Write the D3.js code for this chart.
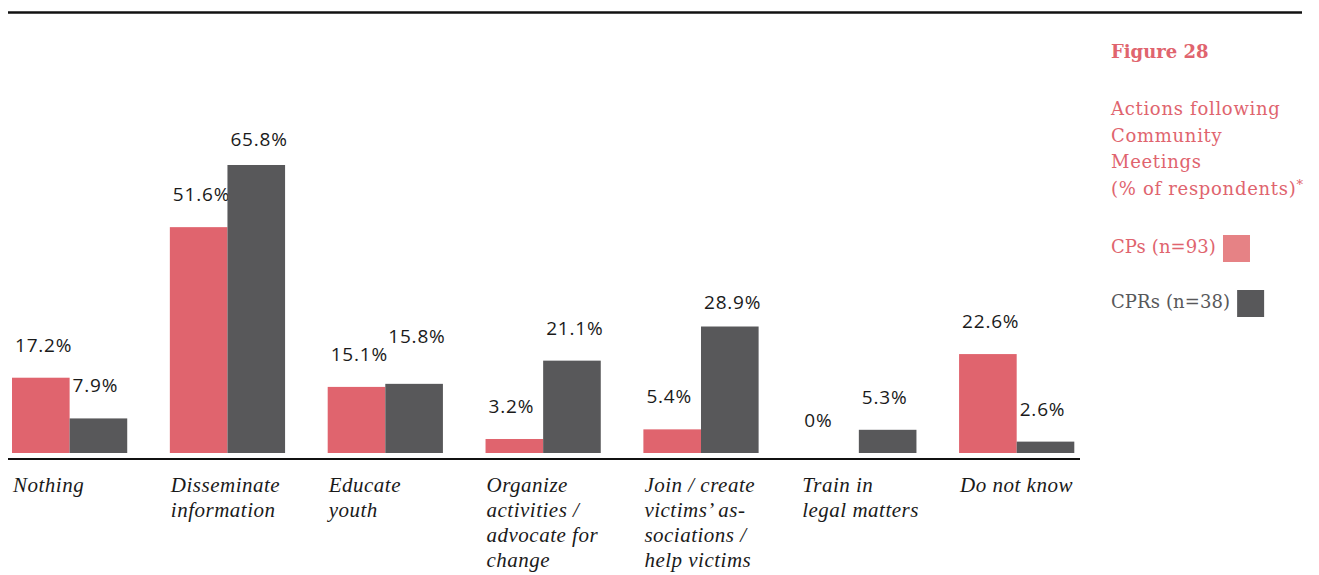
<!DOCTYPE html>
<html>
<head>
<meta charset="utf-8">
<script src="https://cdn.jsdelivr.net/npm/d3@7"></script>
<style>
  body { margin: 0; background: #fff; }
  svg { display: block; }
</style>
</head>
<body>
<svg id="chart" width="1319" height="575"></svg>
<script>
// Chart data
const categories = [
  ["Nothing"],
  ["Disseminate", "information"],
  ["Educate", "youth"],
  ["Organize", "activities /", "advocate for", "change"],
  ["Join / create", "victims\u2019 as-", "sociations /", "help victims"],
  ["Train in", "legal matters"],
  ["Do not know"]
];
const seriesNames = ["CPs (n=93)", "CPRs (n=38)"];
const cpValues = [17.2, 51.6, 15.1, 3.2, 5.4, 0, 22.6];
const cprValues = [7.9, 65.8, 15.8, 21.1, 28.9, 5.3, 2.6];
const valueLabels = [
  ["17.2%", "51.6%", "15.1%", "3.2%", "5.4%", "0%", "22.6%"],
  ["7.9%", "65.8%", "15.8%", "21.1%", "28.9%", "5.3%", "2.6%"]
];
const titleLines = ["Actions following", "Community", "Meetings", "(% of respondents)"];

const barColors = ["#e0646e", "#58585a"];
const swatchColors = ["#e68285", "#58585a"];

const svg = d3.select("#chart");
const keys = categories.map((c, i) => "c" + i);

const x = d3.scaleBand()
  .domain(keys)
  .range([12, 1074.3])
  .paddingInner(0.27);

const x1 = d3.scaleBand()
  .domain([0, 1])
  .range([0, x.bandwidth()]);

const y = d3.scaleLinear()
  .domain([0, 70])
  .range([453, 453 - 70 * 4.377]);

// label gap above bar, a few were moved by hand in the original
const labelGap = { "1-1": 19, "1-2": 41, "1-4": 18 };

// top rule
svg.append("line")
  .attr("x1", 8).attr("x2", 1302)
  .attr("y1", 12.5).attr("y2", 12.5)
  .attr("stroke", "#111").attr("stroke-width", 2.4);

const series = [cpValues, cprValues];

series.forEach((vals, s) => {
  svg.selectAll(".bar-" + s)
    .data(vals)
    .enter().append("rect")
    .attr("class", "bar-" + s)
    .attr("x", (d, i) => x(keys[i]) + x1(s))
    .attr("y", d => y(d))
    .attr("width", x1.bandwidth())
    .attr("height", d => y(0) - y(d))
    .attr("fill", barColors[s]);

  svg.selectAll(".val-" + s)
    .data(vals)
    .enter().append("text")
    .attr("class", "val-" + s)
    .attr("x", (d, i) => x(keys[i]) + x1(s) + 3)
    .attr("y", (d, i) => y(d) - (labelGap[s + "-" + i] || 26))
    .attr("font-family", "'Open Sans', sans-serif")
    .attr("font-size", 19)
    .attr("letter-spacing", 0.8)
    .attr("fill", "#1a1a1a")
    .text((d, i) => valueLabels[s][i]);
});

// axis line
svg.append("line")
  .attr("x1", 8).attr("x2", 1080)
  .attr("y1", 459).attr("y2", 459)
  .attr("stroke", "#111").attr("stroke-width", 1.8);

// category labels
const catText = svg.selectAll(".cat")
  .data(categories)
  .enter().append("text")
  .attr("class", "cat")
  .attr("x", (d, i) => x(keys[i]) + 1)
  .attr("y", 492)
  .attr("font-family", "'Liberation Serif', serif")
  .attr("font-style", "italic")
  .attr("font-size", 21)
  .attr("letter-spacing", 0.5)
  .attr("fill", "#1a1a1a");

catText.each(function (lines, i) {
  d3.select(this).selectAll("tspan")
    .data(lines)
    .enter().append("tspan")
    .attr("x", x(keys[i]) + 1)
    .attr("dy", (d, j) => j === 0 ? 0 : 25)
    .text(d => d);
});

// title block
const serifFont = "'DejaVu Serif', serif";
svg.append("text")
  .attr("x", 1111).attr("y", 58)
  .attr("font-family", serifFont)
  .attr("font-weight", "bold")
  .attr("font-size", 18)
  .attr("fill", "#e0646e")
  .text("Figure 28");

const title = svg.append("text")
  .attr("x", 1111).attr("y", 115)
  .attr("font-family", serifFont)
  .attr("font-size", 18)
  .attr("letter-spacing", 0.7)
  .attr("fill", "#e0646e");

title.selectAll("tspan")
  .data(titleLines)
  .enter().append("tspan")
  .attr("x", 1111)
  .attr("dy", (d, j) => j === 0 ? 0 : 26.7)
  .text(d => d);

title.append("tspan")
  .attr("dy", -6)
  .attr("font-size", 13)
  .attr("letter-spacing", 0)
  .text("*");

// legend
seriesNames.forEach((name, s) => {
  const ty = 253 + s * 55;
  const t = svg.append("text")
    .attr("x", 1111).attr("y", ty)
    .attr("font-family", serifFont)
    .attr("font-size", 18)
    .attr("letter-spacing", 0.1)
    .attr("fill", s === 0 ? "#e0646e" : "#58585a")
    .text(name);
  const w = t.node().getComputedTextLength();
  svg.append("rect")
    .attr("x", 1111 + w + 7)
    .attr("y", ty - 18)
    .attr("width", 27)
    .attr("height", 27)
    .attr("fill", swatchColors[s]);
});
</script>
</body>
</html>
